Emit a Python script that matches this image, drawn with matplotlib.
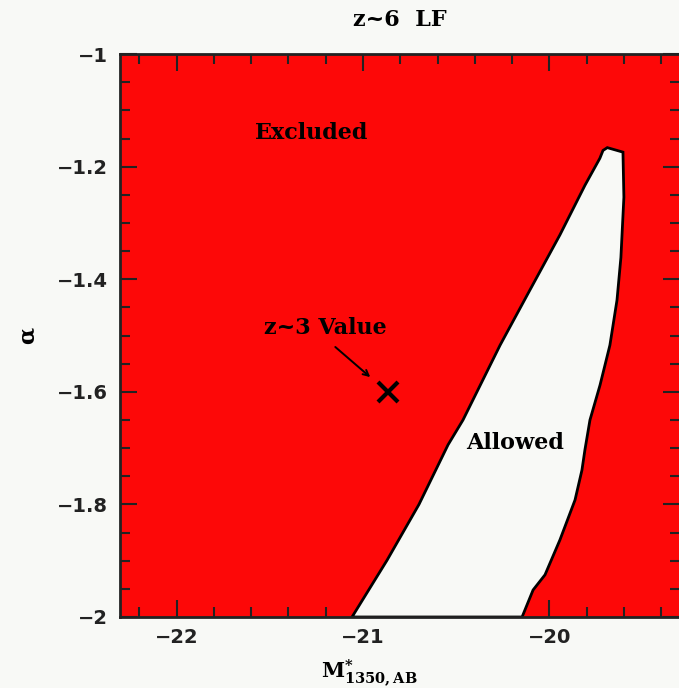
import matplotlib
matplotlib.use("Agg")
import matplotlib.pyplot as plt
from matplotlib.ticker import MultipleLocator
import numpy as np

plt.rcParams["mathtext.fontset"] = "dejavuserif"

# allowed region boundary (M*, alpha)
left_M = [-21.059, -20.871, -20.700, -20.544, -20.464, -20.265, -20.105, -19.944, -19.810, -19.730, -19.713]
left_a = [-2.000, -1.899, -1.800, -1.694, -1.650, -1.517, -1.419, -1.321, -1.233, -1.185, -1.171]
right_M = [-19.690, -19.606, -19.601, -19.617, -19.638, -19.676, -19.729, -19.783,
           -19.810, -19.826, -19.863, -19.944, -20.024, -20.088, -20.147]
right_a = [-1.166, -1.174, -1.254, -1.361, -1.437, -1.517, -1.588, -1.650,
           -1.703, -1.739, -1.792, -1.863, -1.925, -1.952, -2.000]

z3_M, z3_a = -20.866, -1.600

red = "#fd0808"
bg = "#f8f9f6"


def minus_fmt(v, p):
    return "\u2212%g" % abs(v) if v < 0 else "%g" % v


fig = plt.figure(figsize=(6.79, 6.88), dpi=100, facecolor=bg)
ax = fig.add_axes([0.176, 0.1032, 0.8255, 0.818])
ax.set_facecolor(red)

poly_M = left_M + right_M
poly_a = left_a + right_a
ax.fill(poly_M, poly_a, facecolor=bg, edgecolor="black", lw=2, zorder=2)

ax.plot(z3_M, z3_a, marker="x", ms=15, mew=3, color="black", zorder=4)
ax.annotate("", xy=(-20.95, -1.577), xytext=(-21.16, -1.517),
            arrowprops=dict(arrowstyle="->", color="black", lw=1.4), zorder=4)

txt = dict(family="DejaVu Serif", weight="bold", fontsize=16, ha="center", va="center")
ax.text(-21.20, -1.487, "z~3 Value", **txt)
ax.text(-21.273, -1.140, "Excluded", **txt)
ax.text(-20.185, -1.691, "Allowed", **txt)

ax.set_xlim(-22.306, -19.30)
ax.set_ylim(-2, -1)

ax.xaxis.set_major_locator(MultipleLocator(1))
ax.xaxis.set_minor_locator(MultipleLocator(0.2))
ax.yaxis.set_major_locator(MultipleLocator(0.2))
ax.yaxis.set_minor_locator(MultipleLocator(0.05))
ax.xaxis.set_major_formatter(plt.FuncFormatter(minus_fmt))
ax.yaxis.set_major_formatter(plt.FuncFormatter(minus_fmt))

ax.tick_params(which="both", direction="in", top=True, right=True, width=1.5, colors="#222222")
ax.tick_params(which="major", length=12, labelsize=14, pad=8)
ax.tick_params(which="minor", length=7)
for lab in ax.get_xticklabels() + ax.get_yticklabels():
    lab.set_fontweight("bold")
for s in ax.spines.values():
    s.set_linewidth(2)
    s.set_color("#222222")

ax.set_title("z~6  LF", family="DejaVu Serif", weight="bold", fontsize=16, pad=20)
ax.set_ylabel(r"$\mathbf{\alpha}$", fontsize=16)
ax.yaxis.set_label_coords(-0.145, 0.5)
ax.set_xlabel(r"$\mathbf{M^{*}_{1350,AB}}$", fontsize=15)
ax.xaxis.set_label_coords(0.445, -0.072)

fig.savefig("out.png", dpi=100, facecolor=bg)
